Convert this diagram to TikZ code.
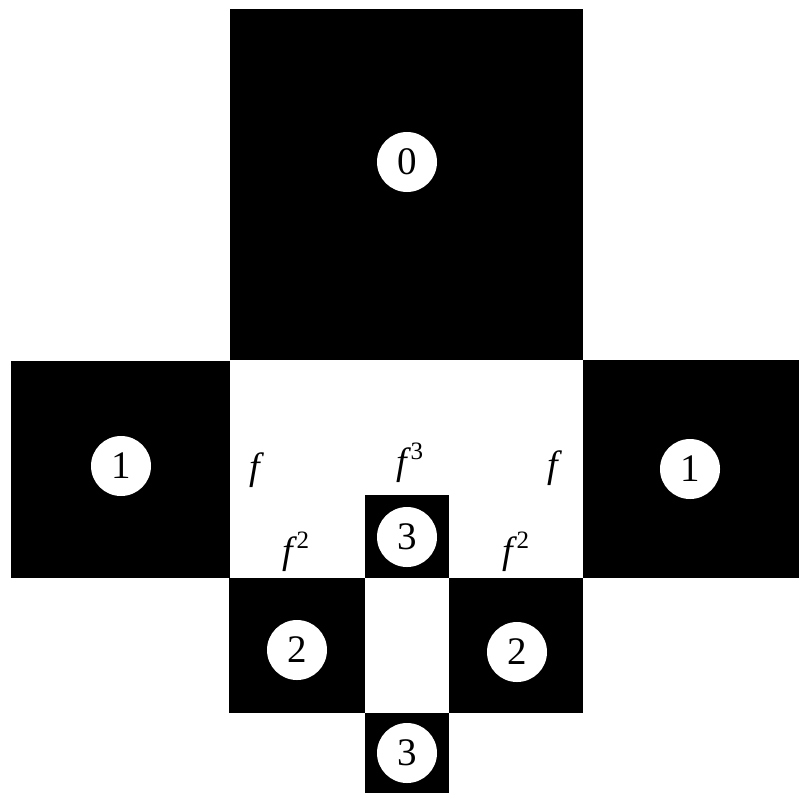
\documentclass[tikz,border=0pt]{standalone}
\usepackage{fontspec}
\setmainfont{Liberation Serif}
\newcommand{\supnum}[1]{\kern3pt\raisebox{15pt}{\fontsize{25}{25}\selectfont\upshape #1}}
\begin{document}
\begin{tikzpicture}[x=1pt,y=-1pt,
  blk/.style={fill=black,draw=none},
  num/.style={circle,fill=white,draw=none,minimum size=60pt,inner sep=0pt,font=\fontsize{39}{39}\selectfont},
  lab/.style={font=\fontsize{38}{38}\selectfont\itshape,inner sep=0pt}]
\useasboundingbox (0,0) rectangle (799,793);
\fill[white] (0,0) rectangle (799,793);
% squares
\path[blk] (230,9) rectangle (583,360);
\path[blk] (11,361) rectangle (230,578);
\path[blk] (583,360) rectangle (799,578);
\path[blk] (365,495) rectangle (449,578);
\path[blk] (229,578) rectangle (365,713);
\path[blk] (449,578) rectangle (583,713);
\path[blk] (365,713) rectangle (449,793);
% numbered discs
\node[num] (n0) at (407,162) {0};
\node[num] (n1a) at (121,466) {1};
\node[num] (n1b) at (690,469) {1};
\node[num] (n3a) at (407,537) {3};
\node[num] (n2a) at (297,650) {2};
\node[num] (n2b) at (517,652) {2};
\node[num] (n3b) at (407,753) {3};
% labels
\node[lab] (fa) at (255,470) {f};
\node[lab] (f3) at (410,463) {f\supnum{3}};
\node[lab] (fb) at (553,468) {f};
\node[lab] (f2a) at (296,552) {f\supnum{2}};
\node[lab] (f2b) at (516,552) {f\supnum{2}};
\end{tikzpicture}
\end{document}
